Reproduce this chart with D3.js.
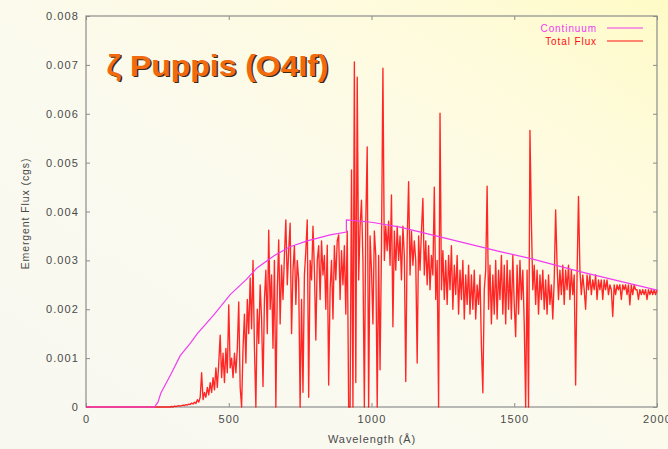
<!DOCTYPE html>
<html>
<head>
<meta charset="utf-8">
<script src="https://cdn.jsdelivr.net/npm/d3@7"></script>
<style>
  html, body { margin: 0; padding: 0; }
  body { width: 668px; height: 449px; overflow: hidden; }
  svg { display: block; font-family: "Liberation Sans", Arial, sans-serif; }
</style>
</head>
<body>
<svg id="chart" width="668" height="449"></svg>
<script>
// Model emergent flux of zeta Puppis (O4If), wavelength in Angstrom, flux in cgs units

// Axis ticks
const xTicks = [0, 500, 1000, 1500, 2000];
const yTicks = [0, 0.001, 0.002, 0.003, 0.004, 0.005, 0.006, 0.007, 0.008];

// Continuum flux (wavelength, flux); jumps at the He II (228 A) and Lyman (912 A) edges
const contWave = [0, 240, 252, 262, 300, 330, 365, 390, 450, 505, 560, 600, 660, 715, 775, 855, 912, 912, 1000, 1100, 1240, 1450, 1555, 1730, 2000];
const contFlux = [0, 0, 0.0001, 0.00028, 0.0007, 0.00105, 0.0013, 0.0015, 0.0019, 0.0023, 0.0026, 0.00285, 0.0031, 0.00328, 0.0034, 0.00352, 0.00358, 0.00383, 0.00378, 0.00368, 0.00348, 0.00318, 0.00304, 0.00277, 0.00239];

// Total flux sampled every 5 A from 200 A to 2000 A (zero below 200 A)
const fluxStart = 200;
const fluxStep = 5;
const flux = [
  // 200 - 295
  0, 0, 0, 0, 0, 0, 0, 0, 0, 0,
  0, 0, 0, 0, 0, 0, 0, 0, 0, 0,
  // 300 - 395
  0.00001, 0, 0.00002, 0.00001, 0.00002, 0.00003, 0.00002, 0.00003, 0.00004, 0.00003,
  0.00005, 0.00004, 0.00006, 0.00005, 0.00008, 0.00006, 0.0001, 0.00007, 0.00015, 0.0001,
  // 400 - 495
  0.0002, 0.0007, 0.00015, 0.0003, 0.0002, 0.0004, 0.00025, 0.0005, 0.0003, 0.0006,
  0.00035, 0.0008, 0.0004, 0.0009, 0.00147, 0.0006, 0.0011, 0.0005, 0.0012, 0.0007,
  // 500 - 595
  0.00209, 0.0008, 0.0010, 0.0006, 0.0011, 0.0007, 0.0012, 0.00215, 0.0004, 0.0,
  0.0012, 0.0019, 0.0009, 0.0022, 0.0015, 0.00264, 0.0016, 0.0030, 0.0012, 0.0,
  // 600 - 695
  0.0020, 0.0013, 0.0025, 0.0018, 0.00042, 0.0022, 0.0028, 0.0015, 0.00362, 0.0020,
  0.0027, 0.0012, 0.0030, 0.0, 0.0024, 0.00342, 0.0017, 0.0029, 0.0022, 0.0031,
  // 700 - 795
  0.00383, 0.0025, 0.0032, 0.00376, 0.0015, 0.0028, 0.0033, 0.0021, 0.0030, 0.0026,
  0.0, 0.0022, 0.0003, 0.0027, 0.0032, 0.00383, 0.0002, 0.0030, 0.0026, 0.0037,
  // 800 - 895
  0.0028, 0.00137, 0.0030, 0.0033, 0.0022, 0.0034, 0.0027, 0.0031, 0.0020, 0.00331,
  0.00045, 0.0024, 0.0030, 0.0018, 0.0033, 0.0026, 0.0034, 0.00352, 0.0022, 0.0032,
  // 900 - 995
  0.0025, 0.0033, 0.0019, 0.0036, 0.0, 0.0, 0.00485, 0.0, 0.00706, 0.0005,
  0.00675, 0.0026, 0.0037, 0.00423, 0.0030, 0.0, 0.0038, 0.00532, 0.0, 0.0035,
  // 1000 - 1095
  0.0028, 0.0017, 0.0036, 0.0031, 0.0, 0.0031, 0.00076, 0.0033, 0.00693, 0.0030,
  0.0037, 0.0032, 0.0038, 0.0029, 0.00434, 0.00164, 0.0036, 0.0028, 0.0037, 0.0030,
  // 1100 - 1195
  0.0035, 0.0026, 0.0037, 0.0031, 0.00052, 0.0034, 0.00461, 0.0027, 0.0036, 0.0029,
  0.0034, 0.0030, 0.0009, 0.0035, 0.0028, 0.0036, 0.00427, 0.0027, 0.0034, 0.0025,
  // 1200 - 1295
  0.0033, 0.0024, 0.0031, 0.0027, 0.0045, 0.0022, 0.0030, 0.0, 0.00601, 0.0024,
  0.0032, 0.0022, 0.0030, 0.0021, 0.0031, 0.0024, 0.0033, 0.0020, 0.0029, 0.0023,
  // 1300 - 1395
  0.0031, 0.0019, 0.0028, 0.0022, 0.0030, 0.0018, 0.0027, 0.0021, 0.0029, 0.0019,
  0.0027, 0.0020, 0.0028, 0.0018, 0.0025, 0.0021, 0.0027, 0.00123, 0.00029, 0.0024,
  // 1400 - 1495
  0.0028, 0.00452, 0.0020, 0.0029, 0.0017, 0.0027, 0.0019, 0.0030, 0.0018, 0.0028,
  0.0022, 0.0031, 0.0019, 0.0029, 0.0017, 0.0030, 0.0020, 0.0028, 0.0018, 0.0031,
  // 1500 - 1595
  0.0021, 0.00144, 0.0029, 0.0019, 0.0030, 0.0022, 0.0028, 0.0017, 0.0, 0.0028,
  0.0, 0.00566, 0.0038, 0.0024, 0.0029, 0.0021, 0.0028, 0.0019, 0.0027, 0.0022,
  // 1600 - 1695
  0.0028, 0.0020, 0.0026, 0.0019, 0.0027, 0.0021, 0.0025, 0.0018, 0.0026, 0.00403,
  0.0029, 0.0022, 0.0028, 0.0023, 0.0029, 0.0021, 0.0028, 0.0024, 0.0029, 0.0022,
  // 1700 - 1795
  0.0028, 0.0023, 0.0027, 0.00045, 0.0027, 0.00431, 0.0028, 0.0023, 0.0027, 0.0024,
  0.0020, 0.0027, 0.0024, 0.0027, 0.0023, 0.0026, 0.0024, 0.0027, 0.0022, 0.0026,
  // 1800 - 1895
  0.0024, 0.0026, 0.0022, 0.0026, 0.0024, 0.0026, 0.0023, 0.0025, 0.0024, 0.00185,
  0.0025, 0.0023, 0.0025, 0.0024, 0.0025, 0.0022, 0.0025, 0.0024, 0.0025, 0.0023,
  // 1900 - 1995
  0.0025, 0.00209, 0.0025, 0.0023, 0.0025, 0.0024, 0.0024, 0.0022, 0.0024, 0.0023,
  0.0024, 0.0023, 0.0024, 0.0022, 0.0024, 0.0023, 0.0024, 0.0023, 0.0024, 0.0023,
  // 2000
  0.0024
];

const legendLabels = ["Continuum", "Total Flux"];
const titleText = "ζ Puppis (O4If)";

// ---- layout ----
const W = 668, H = 449;
const plot = { left: 86, right: 657, top: 16, bottom: 407 };

const svg = d3.select("#chart");

// soft cream-to-yellow page background
const defs = svg.append("defs");
const bg = defs.append("linearGradient").attr("id", "bg")
  .attr("x1", "0").attr("y1", "1").attr("x2", "1").attr("y2", "0");
bg.append("stop").attr("offset", "0").attr("stop-color", "#f8f8f1");
bg.append("stop").attr("offset", "0.45").attr("stop-color", "#fbfaef");
bg.append("stop").attr("offset", "0.8").attr("stop-color", "#fefbdc");
bg.append("stop").attr("offset", "1").attr("stop-color", "#fffbc6");
svg.append("rect").attr("width", W).attr("height", H).attr("fill", "url(#bg)");

const x = d3.scaleLinear().domain([0, 2000]).range([plot.left, plot.right]);
const y = d3.scaleLinear().domain([0, 0.008]).range([plot.bottom, plot.top]);

const axisColor = "#8c8c8c";
const textColor = "#4a4a4a";

// axes with inward ticks (mirrored on top and right)
const fmtY = d => d === 0 ? "0" : d3.format(".3f")(d);
const fmtX = d3.format("d");
function styleAxis(g) {
  g.select(".domain").remove();
  g.selectAll(".tick line").attr("stroke", axisColor);
  g.selectAll(".tick text").attr("fill", textColor)
    .attr("font-size", 11).attr("letter-spacing", 1.1);
}
svg.append("g").attr("transform", `translate(0,${plot.bottom})`)
  .call(d3.axisBottom(x).tickValues(xTicks).tickFormat(fmtX).tickSizeInner(-4).tickSizeOuter(0).tickPadding(8))
  .call(styleAxis);
svg.append("g").attr("transform", `translate(0,${plot.top})`)
  .call(d3.axisTop(x).tickValues(xTicks).tickSizeInner(-4).tickSizeOuter(0).tickFormat(""))
  .call(styleAxis);
svg.append("g").attr("transform", `translate(${plot.left},0)`)
  .call(d3.axisLeft(y).tickValues(yTicks).tickFormat(fmtY).tickSizeInner(-4).tickSizeOuter(0).tickPadding(7))
  .call(styleAxis);
svg.append("g").attr("transform", `translate(${plot.right},0)`)
  .call(d3.axisRight(y).tickValues(yTicks).tickSizeInner(-4).tickSizeOuter(0).tickFormat(""))
  .call(styleAxis);

// plot frame
svg.append("rect")
  .attr("x", plot.left).attr("y", plot.top)
  .attr("width", plot.right - plot.left).attr("height", plot.bottom - plot.top)
  .attr("fill", "none").attr("stroke", axisColor).attr("stroke-width", 1.2);

// axis titles
svg.append("text")
  .attr("transform", `translate(26,${(plot.top + plot.bottom) / 2 + 2}) rotate(-90)`)
  .attr("text-anchor", "middle").attr("dominant-baseline", "middle")
  .attr("font-size", 10.5).attr("letter-spacing", 0.9).attr("fill", textColor)
  .text("Emergent Flux (cgs)");
svg.append("text")
  .attr("x", (plot.left + plot.right) / 2 + 0.5).attr("y", 443)
  .attr("text-anchor", "middle")
  .attr("font-size", 11).attr("letter-spacing", 0.9).attr("fill", textColor)
  .text("Wavelength (Å)");

// spectra
const fluxData = [{ w: 0, f: 0 }].concat(flux.map((f, i) => ({ w: fluxStart + i * fluxStep, f })));
const contData = contWave.map((w, i) => ({ w, f: contFlux[i] }));
const line = d3.line().x(d => x(d.w)).y(d => y(d.f));

const colCont = "#f03cf0";
const colFlux = "#ff1010";

svg.append("path").datum(fluxData)
  .attr("d", line).attr("fill", "none")
  .attr("stroke", colFlux).attr("stroke-width", 1.35).attr("stroke-opacity", 0.9)
  .attr("stroke-linejoin", "round");
svg.append("path").datum(contData)
  .attr("d", line).attr("fill", "none")
  .attr("stroke", colCont).attr("stroke-width", 1.2);

// legend (right aligned, top right of the plot)
const legend = svg.append("g");
[colCont, colFlux].forEach((c, i) => {
  const ly = 28 + i * 13;
  legend.append("text")
    .attr("x", 597).attr("y", ly).attr("dy", "0.35em")
    .attr("text-anchor", "end").attr("font-size", 10).attr("letter-spacing", 0.9).attr("fill", c)
    .text(legendLabels[i]);
  legend.append("line")
    .attr("x1", 607).attr("x2", 643).attr("y1", ly).attr("y2", ly)
    .attr("stroke", c).attr("stroke-width", 1.2);
});

// star name with drop shadow
const title = svg.append("g").attr("font-weight", "bold").attr("font-size", 29);
title.append("text").attr("x", 108).attr("y", 77)
  .attr("textLength", 222).attr("lengthAdjust", "spacingAndGlyphs")
  .attr("fill", "#3a2a1a").text(titleText);
title.append("text").attr("x", 106.5).attr("y", 75.5)
  .attr("textLength", 222).attr("lengthAdjust", "spacingAndGlyphs")
  .attr("fill", "#f26a0e").text(titleText);
</script>
</body>
</html>
